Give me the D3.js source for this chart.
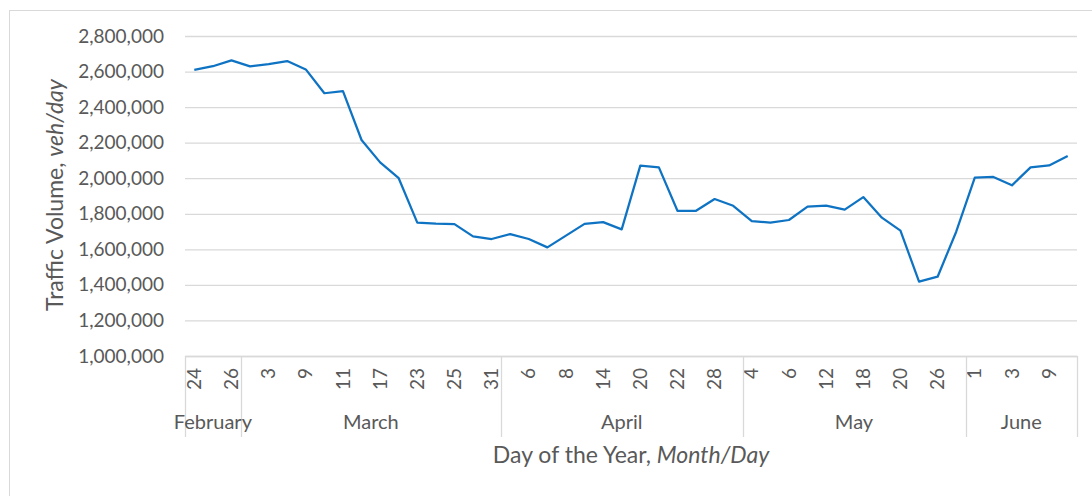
<!DOCTYPE html>
<html>
<head>
<meta charset="utf-8">
<script src="https://cdn.jsdelivr.net/npm/d3@7"></script>
<style>
  body { margin: 0; background: #fff; }
  svg { font-family: Lato, "Open Sans", sans-serif; }
  .tick text { fill: #595959; }
</style>
</head>
<body>
<div id="chart"></div>
<script>
// months and the days sampled in each (only every other day is labelled)
let monthNames = ["February", "March", "April", "May", "June"];
let monthDays = [
  [24, 25, 26],
  [2, 3, 4, 9, 10, 11, 16, 17, 18, 23, 24, 25, 30, 31],
  [1, 6, 7, 8, 13, 14, 15, 20, 21, 22, 27, 28, 29],
  [4, 5, 6, 11, 12, 13, 18, 19, 20, 25, 26, 27],
  [1, 2, 3, 8, 9, 10]
];
// daily traffic volume, veh/day
let volume = [
  2610000, 2630000, 2663000, 2629000, 2642000, 2659000, 2612000, 2478000,
  2490000, 2215000, 2089000, 2000000, 1750000, 1744000, 1742000, 1673000,
  1658000, 1686000, 1658000, 1611000, 1677000, 1743000, 1753000, 1712000,
  2071000, 2061000, 1817000, 1817000, 1883000, 1845000, 1759000, 1750000,
  1765000, 1840000, 1846000, 1823000, 1894000, 1778000, 1705000, 1418000,
  1446000, 1699000, 2003000, 2007000, 1960000, 2061000, 2072000, 2125000
];
let yTicks = [1000000, 1200000, 1400000, 1600000, 1800000, 2000000,
  2200000, 2400000, 2600000, 2800000];

let width = 1092;
let height = 496;
let plotLeft = 185;
let plotRight = 1077;
let plotTop = 36;
let plotBottom = 356;

// flatten into one row per point
let points = [];
monthDays.forEach(function (days, m) {
  days.forEach(function (d) {
    points.push({ month: m, day: d, value: volume[points.length] });
  });
});

let svg = d3.select("#chart")
  .append("svg")
  .attr("width", width)
  .attr("height", height);

// outer chart border
svg.append("rect")
  .attr("x", 9.5).attr("y", 10.5)
  .attr("width", 1100).attr("height", 500)
  .attr("fill", "none")
  .attr("stroke", "#d9d9d9");

let xScale = d3.scaleBand()
  .domain(d3.range(points.length))
  .range([plotLeft, plotRight])
  .padding(0);

let yScale = d3.scaleLinear()
  .domain([1000000, 2800000])
  .range([plotBottom, plotTop]);

// gridlines
svg.append("g")
  .attr("transform", "translate(" + plotLeft + ",0)")
  .call(d3.axisLeft(yScale).tickValues(yTicks).tickSize(-(plotRight - plotLeft)).tickFormat(""))
  .call(function (g) {
    g.select(".domain").remove();
    g.selectAll("line").attr("stroke", "#d9d9d9").attr("stroke-width", 1.3);
  });

// y labels
svg.append("g")
  .attr("transform", "translate(" + plotLeft + ",0)")
  .call(d3.axisLeft(yScale).tickValues(yTicks).tickSize(0).tickPadding(21)
    .tickFormat(d3.format(",")))
  .call(function (g) {
    g.select(".domain").remove();
    g.selectAll("text").attr("font-size", 19).attr("font-family", "Lato, sans-serif");
  });

// day labels, every other point
let dayAxis = svg.append("g")
  .attr("transform", "translate(0," + plotBottom + ")")
  .call(d3.axisBottom(xScale).tickSize(0)
    .tickFormat(function (i) { return i % 2 === 0 ? points[i].day : ""; }));
dayAxis.select(".domain").attr("stroke", "#d9d9d9").attr("stroke-width", 1.3);
dayAxis.selectAll("text")
  .attr("font-size", 19)
  .attr("font-family", "Lato, sans-serif")
  .attr("text-anchor", "end")
  .attr("transform", "rotate(-90)")
  .attr("x", -12)
  .attr("y", 0)
  .attr("dy", "0.35em");

// month separators and labels
let start = 0;
let bounds = [];
monthDays.forEach(function (days, m) {
  bounds.push({ name: monthNames[m], s: start, e: start + days.length });
  start += days.length;
});

let sepX = [xScale(0)].concat(bounds.map(function (b) {
  return b.e < points.length ? xScale(b.e) : plotRight;
}));
svg.selectAll(".sep")
  .data(sepX)
  .enter()
  .append("line")
  .attr("class", "sep")
  .attr("x1", function (d) { return Math.round(d) + 0.5; })
  .attr("x2", function (d) { return Math.round(d) + 0.5; })
  .attr("y1", plotBottom)
  .attr("y2", 437)
  .attr("stroke", "#d9d9d9")
  .attr("stroke-width", 1.3);

svg.selectAll(".month")
  .data(bounds)
  .enter()
  .append("text")
  .attr("class", "month")
  .attr("x", function (b) {
    let x1 = xScale(b.s);
    let x2 = b.e < points.length ? xScale(b.e) : plotRight;
    return (x1 + x2) / 2;
  })
  .attr("y", 429)
  .attr("text-anchor", "middle")
  .attr("font-size", 20)
  .attr("fill", "#595959")
  .text(function (b) { return b.name; });

// the line
let line = d3.line()
  .x(function (d, i) { return xScale(i) + xScale.bandwidth() / 2; })
  .y(function (d) { return yScale(d.value); });

svg.append("path")
  .datum(points)
  .attr("d", line)
  .attr("fill", "none")
  .attr("stroke", "#0f73c3")
  .attr("stroke-width", 2.25)
  .attr("stroke-linejoin", "round");

// axis titles
let yTitle = svg.append("text")
  .attr("transform", "translate(55,195)rotate(-90)")
  .attr("text-anchor", "middle")
  .attr("dy", "0.35em")
  .attr("font-size", 23)
  .attr("fill", "#595959");
yTitle.append("tspan").text("Traffic Volume, ");
yTitle.append("tspan").attr("font-style", "italic").text("veh/day");

let xTitle = svg.append("text")
  .attr("x", 631)
  .attr("y", 463)
  .attr("text-anchor", "middle")
  .attr("font-size", 23)
  .attr("fill", "#595959");
xTitle.append("tspan").text("Day of the Year, ");
xTitle.append("tspan").attr("font-style", "italic").text("Month/Day");
</script>
</body>
</html>
